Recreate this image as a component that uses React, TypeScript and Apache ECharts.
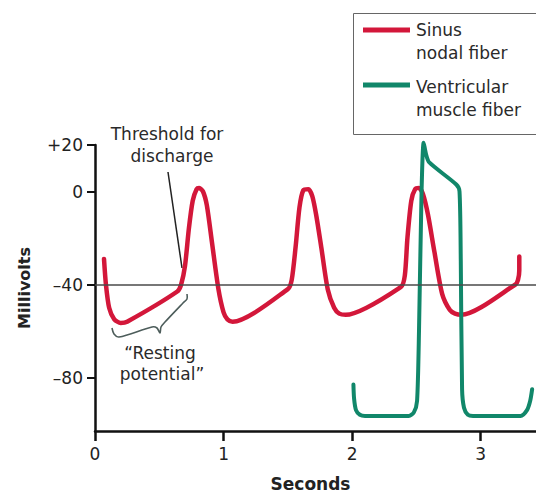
import React, { useEffect, useRef } from "react";
import * as echarts from "echarts";

// Sinus nodal fiber (time in s, membrane potential in mV)
const sinusTime = [0.07, 0.085, 0.11, 0.15, 0.2, 0.25, 0.64, 0.67, 0.7, 0.73, 0.76, 0.79, 0.81, 0.84, 0.87, 0.91, 0.96, 1.0, 1.03, 1.07, 1.5, 1.53, 1.56, 1.59, 1.62, 1.66, 1.69, 1.72, 1.76, 1.81, 1.86, 1.9, 1.95, 2.38, 2.41, 2.43, 2.46, 2.49, 2.52, 2.55, 2.59, 2.64, 2.7, 2.76, 2.8, 2.85, 3.27, 3.29, 3.3, 3.3];
const sinusMv = [-29, -40, -50, -55, -56.5, -56, -43, -40, -32, -16, -4, 1, 1.5, 0, -6, -22, -42, -52, -55, -56, -42, -38, -24, -7, 0.5, 1, -2, -10, -24, -42, -50, -52.5, -53, -41, -36, -20, -4, 1, 1.5, -1, -10, -26, -44, -51, -52.5, -53, -40, -38, -34, -28];

// Ventricular muscle fiber
const ventTime = [2.01, 2.015, 2.03, 2.06, 2.1, 2.44, 2.48, 2.505, 2.52, 2.54, 2.556, 2.575, 2.6, 2.81, 2.835, 2.845, 2.855, 2.87, 2.9, 2.94, 3.31, 3.36, 3.385, 3.4];
const ventMv = [-83, -89, -94, -96, -96.5, -96.5, -95, -90, -60, 0, 21, 16, 12.5, 3, 0, -30, -85, -93, -96, -96.5, -96.5, -94, -90, -85];

const yTicks = [20, 0, -40, -80];
const xTicks = [0, 1, 2, 3];
const thresholdMv = -40;

const legendNames = ["Sinus\nnodal fiber", "Ventricular\nmuscle fiber"];
const RED = "#d3173a";
const GREEN = "#11876a";
const FONT = "DejaVu Sans";

export default function App() {
  const ref = useRef<HTMLDivElement>(null);
  useEffect(() => {
    if (!ref.current) return;
    const chart = echarts.init(ref.current, null, { renderer: "svg" });
    const sinus = sinusTime.map((t, i) => [t, sinusMv[i]]);
    const vent = ventTime.map((t, i) => [t, ventMv[i]]);
    const txt = (text: string, x: number, y: number, extra: any = {}) => ({
      type: "text",
      x,
      y,
      style: {
        text,
        fontSize: 17,
        fontFamily: FONT,
        fill: "#2a2a2a",
        align: "left",
        verticalAlign: "middle",
        ...extra,
      },
    });
    chart.setOption({
      animation: false,
      backgroundColor: "#ffffff",
      grid: { left: 95, right: 0, top: 145, bottom: 64, containLabel: false },
      xAxis: {
        type: "value",
        min: 0,
        max: 3.43,
        interval: 1,
        name: "Seconds",
        nameLocation: "middle",
        nameGap: 44,
        nameTextStyle: { fontFamily: FONT, fontWeight: "bold", fontSize: 17, color: "#222", padding: [0, 10, 0, 0] },
        axisLine: { onZero: false, lineStyle: { color: "#111", width: 2.5 } },
        axisTick: { show: true, length: 10, inside: false, lineStyle: { color: "#111", width: 2.5 }, customValues: xTicks },
        axisLabel: { fontFamily: FONT, fontSize: 17, color: "#222", margin: 14, customValues: xTicks, formatter: (v: number) => String(v) },
        splitLine: { show: false },
      },
      yAxis: {
        type: "value",
        min: -103,
        max: 20,
        name: "Millivolts",
        nameLocation: "middle",
        nameGap: 63,
        nameTextStyle: { fontFamily: FONT, fontWeight: "bold", fontSize: 16, color: "#222" },
        axisLine: { show: true, onZero: false, lineStyle: { color: "#111", width: 2.5 } },
        axisTick: { show: true, length: 8, lineStyle: { color: "#111", width: 2 }, customValues: yTicks },
        axisLabel: {
          fontFamily: FONT,
          fontSize: 17,
          color: "#222",
          margin: 12,
          customValues: yTicks,
          formatter: (v: number) => (v > 0 ? "+" + v : v < 0 ? "\u2013" + Math.abs(v) : "0"),
        },
        splitLine: { show: false },
      },
      series: [
        {
          name: legendNames[0],
          type: "line",
          data: sinus,
          showSymbol: false,
          smooth: 0.25,
          clip: false,
          z: 3,
          lineStyle: { color: RED, width: 4.5, cap: "round", join: "round" },
          itemStyle: { color: RED },
          markLine: {
            silent: true,
            symbol: "none",
            label: { show: false },
            lineStyle: { color: "#4a4a4a", width: 1.5, type: "solid" },
            data: [{ yAxis: thresholdMv }],
            z: 5,
          },
        },
        {
          name: legendNames[1],
          type: "line",
          data: vent,
          showSymbol: false,
          smooth: 0.25,
          clip: false,
          z: 4,
          lineStyle: { color: GREEN, width: 4, cap: "round", join: "round" },
          itemStyle: { color: GREEN },
        },
      ],
      graphic: [
        // legend box
        { type: "rect", shape: { x: 353.5, y: 13.5, width: 200, height: 121 }, style: { fill: "none", stroke: "#666", lineWidth: 1 } },
        { type: "line", shape: { x1: 363, y1: 30, x2: 410, y2: 30 }, style: { stroke: RED, lineWidth: 5 } },
        txt("Sinus", 416, 30),
        txt("nodal fiber", 416, 53),
        { type: "line", shape: { x1: 363, y1: 85, x2: 410, y2: 85 }, style: { stroke: GREEN, lineWidth: 5 } },
        txt("Ventricular", 416, 87),
        txt("muscle fiber", 416, 110),
        // threshold annotation
        txt("Threshold for", 167, 134, { align: "center" }),
        txt("discharge", 172, 156, { align: "center" }),
        { type: "line", shape: { x1: 168, y1: 172, x2: 182, y2: 268 }, style: { stroke: "#222", lineWidth: 1.5 } },
        // resting potential brace
        {
          type: "polyline",
          shape: {
            points: [[112, 328], [114, 334], [119, 337], [152, 327], [157, 328], [160, 333], [161, 327], [165, 322], [183, 303], [187, 299], [187, 294]],
            smooth: 0.3,
          },
          style: { stroke: "#4d5d5b", lineWidth: 1.6, fill: "none" },
        },
        txt("\u201cResting", 160, 353, { align: "center" }),
        txt("potential\u201d", 162, 374, { align: "center" }),
      ],
    });
    return () => chart.dispose();
  }, []);
  return <div ref={ref} style={{ position: "fixed", left: 0, top: 0, width: 536, height: 497 }} />;
}
